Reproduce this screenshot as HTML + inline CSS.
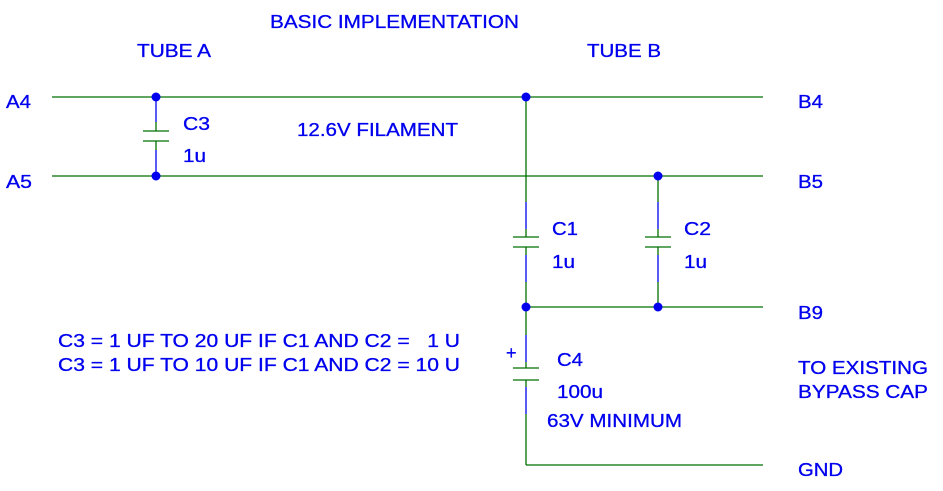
<!DOCTYPE html>
<html><head><style>
html,body{margin:0;padding:0;background:#fff;width:943px;height:491px;overflow:hidden}
text{font-family:"Liberation Sans",Arial,sans-serif;font-size:18px;fill:#0000ee;stroke:#0000ee;stroke-width:0.3}
</style></head><body>
<svg width="943" height="491" viewBox="0 0 943 491" xmlns="http://www.w3.org/2000/svg">
<g stroke="#007000" stroke-width="1.3" fill="none">
<line x1="52" y1="97" x2="763" y2="97"/>
<line x1="52" y1="176" x2="763" y2="176"/>
<line x1="526" y1="307" x2="763" y2="307"/>
<line x1="526" y1="465" x2="763" y2="465"/>
<line x1="156" y1="122" x2="156" y2="131"/><line x1="143" y1="131" x2="169" y2="131"/>
<line x1="143" y1="141" x2="169" y2="141"/><line x1="156" y1="141" x2="156" y2="150"/>
<line x1="526" y1="97" x2="526" y2="202"/>
<line x1="526" y1="229" x2="526" y2="237"/><line x1="513" y1="237" x2="539" y2="237"/>
<line x1="513" y1="247" x2="539" y2="247"/><line x1="526" y1="247" x2="526" y2="255"/>
<line x1="526" y1="282" x2="526" y2="335"/>
<line x1="658" y1="176" x2="658" y2="202"/>
<line x1="658" y1="229" x2="658" y2="237"/><line x1="645" y1="237" x2="671" y2="237"/>
<line x1="645" y1="247" x2="671" y2="247"/><line x1="658" y1="247" x2="658" y2="255"/>
<line x1="658" y1="282" x2="658" y2="307"/>
<line x1="526" y1="362" x2="526" y2="368"/><line x1="513" y1="368" x2="539" y2="368"/>
<line x1="513" y1="380" x2="539" y2="380"/><line x1="526" y1="380" x2="526" y2="387"/>
<line x1="526" y1="414" x2="526" y2="465"/>
</g>
<g stroke="#0000ee" stroke-width="1.3">
<line x1="156" y1="97" x2="156" y2="122"/><line x1="156" y1="150" x2="156" y2="176"/>
<line x1="526" y1="202" x2="526" y2="229"/><line x1="526" y1="255" x2="526" y2="282"/>
<line x1="658" y1="202" x2="658" y2="229"/><line x1="658" y1="255" x2="658" y2="282"/>
<line x1="526" y1="335" x2="526" y2="362"/><line x1="526" y1="387" x2="526" y2="414"/>
</g>
<g fill="#0000ee">
<circle cx="156" cy="97" r="4.5"/><circle cx="156" cy="176" r="4.5"/>
<circle cx="526" cy="97" r="4.5"/><circle cx="658" cy="176" r="4.5"/>
<circle cx="526" cy="307" r="4.5"/><circle cx="658" cy="307" r="4.5"/>
</g>
<g style="" >
<text x="270" y="28" textLength="249" lengthAdjust="spacingAndGlyphs">BASIC IMPLEMENTATION</text>
<text x="137" y="57" textLength="74" lengthAdjust="spacingAndGlyphs">TUBE A</text>
<text x="587" y="57" textLength="74" lengthAdjust="spacingAndGlyphs">TUBE B</text>
<text x="6" y="108" textLength="25" lengthAdjust="spacingAndGlyphs">A4</text>
<text x="6" y="188" textLength="26" lengthAdjust="spacingAndGlyphs">A5</text>
<text x="798" y="108" textLength="25" lengthAdjust="spacingAndGlyphs">B4</text>
<text x="798" y="188" textLength="25" lengthAdjust="spacingAndGlyphs">B5</text>
<text x="798" y="319" textLength="25" lengthAdjust="spacingAndGlyphs">B9</text>
<text x="798" y="476" textLength="45" lengthAdjust="spacingAndGlyphs">GND</text>
<text x="183" y="130" textLength="27" lengthAdjust="spacingAndGlyphs">C3</text>
<text x="183" y="162" textLength="23" lengthAdjust="spacingAndGlyphs">1u</text>
<text x="297" y="136" textLength="161" lengthAdjust="spacingAndGlyphs">12.6V FILAMENT</text>
<text x="552" y="235" textLength="26" lengthAdjust="spacingAndGlyphs">C1</text>
<text x="552" y="268" textLength="23" lengthAdjust="spacingAndGlyphs">1u</text>
<text x="684" y="235" textLength="27" lengthAdjust="spacingAndGlyphs">C2</text>
<text x="684" y="268" textLength="23" lengthAdjust="spacingAndGlyphs">1u</text>
<text x="506" y="359">+</text>
<text x="557" y="366" textLength="26" lengthAdjust="spacingAndGlyphs">C4</text>
<text x="557" y="398" textLength="46" lengthAdjust="spacingAndGlyphs">100u</text>
<text x="547" y="427" textLength="135" lengthAdjust="spacingAndGlyphs">63V MINIMUM</text>
<text x="58" y="347" xml:space="preserve" textLength="402" lengthAdjust="spacingAndGlyphs">C3 = 1 UF TO 20 UF IF C1 AND C2 =   1 U</text>
<text x="58" y="371" textLength="402" lengthAdjust="spacingAndGlyphs">C3 = 1 UF TO 10 UF IF C1 AND C2 = 10 U</text>
<text x="798" y="374" textLength="130" lengthAdjust="spacingAndGlyphs">TO EXISTING</text>
<text x="798" y="398" textLength="130" lengthAdjust="spacingAndGlyphs">BYPASS CAP</text>
</g>
</svg>
</body></html>
